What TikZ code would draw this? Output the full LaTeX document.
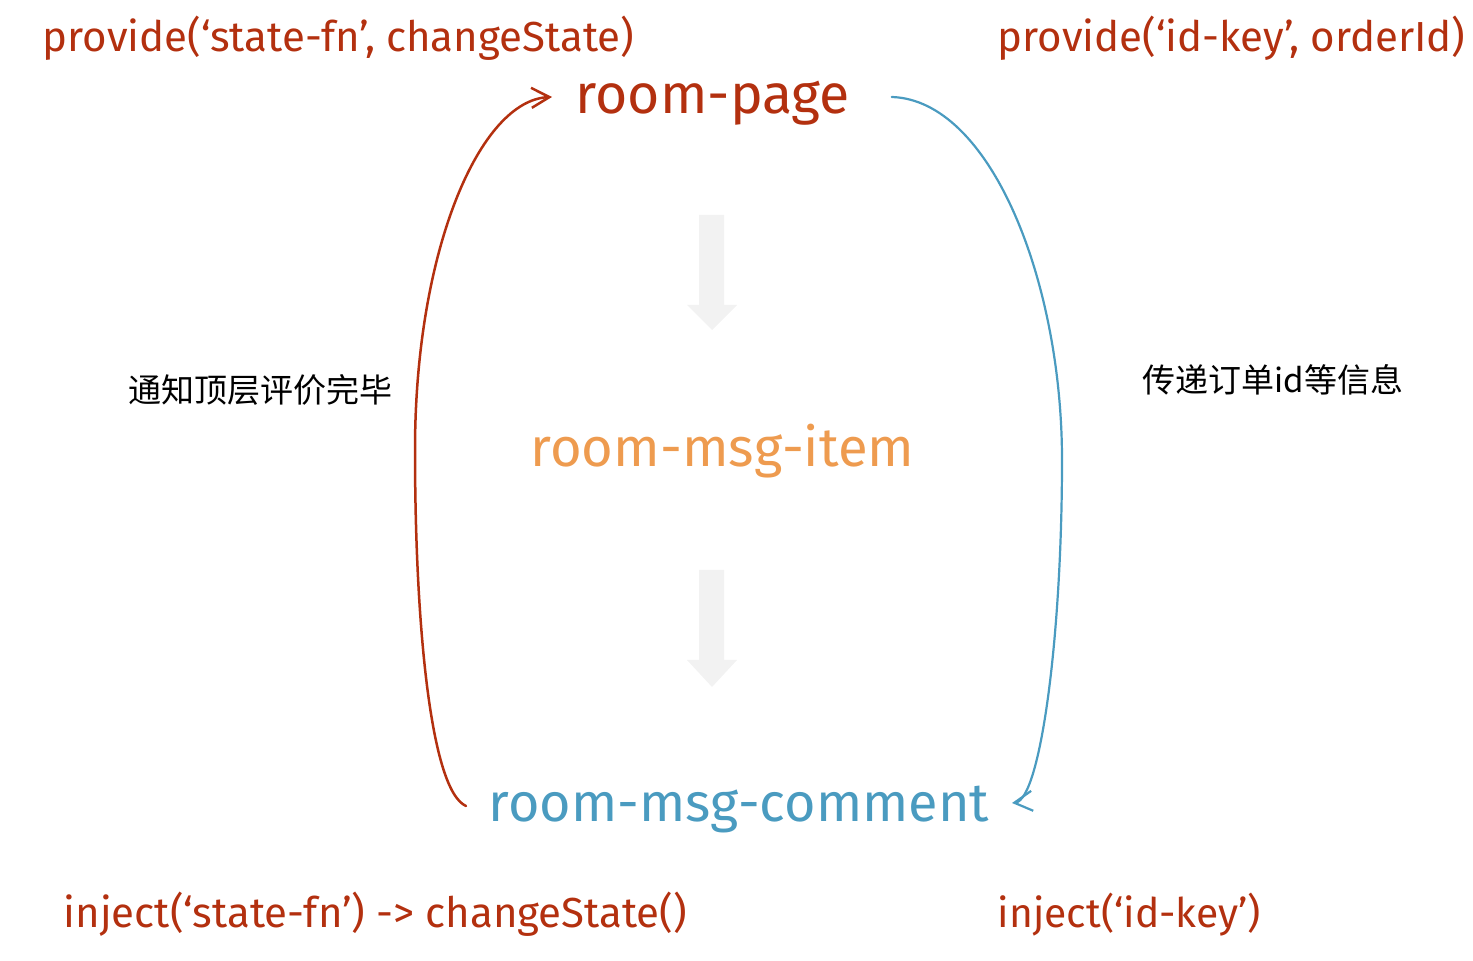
\documentclass[tikz,border=0pt]{standalone}
\usepackage{fontspec}
\setmainfont{Fira Sans}
\newfontfamily\cjk{Noto Sans CJK SC}
\usetikzlibrary{arrows.meta}
\definecolor{provred}{HTML}{B3300F}
\definecolor{itemorange}{HTML}{EE9B4F}
\definecolor{cmtblue}{HTML}{4A9BC0}
\definecolor{flowgray}{HTML}{F2F2F2}
\tikzset{every picture/.style={line width=0.75pt}}
\tikzset{
codetext/.style={anchor=base west, inner sep=0pt, text=provred, font=\fontsize{21}{26}\selectfont},
compname/.style={anchor=base west, inner sep=0pt, font=\fontsize{27.2}{32}\selectfont},
notetext/.style={anchor=west, inner sep=0pt, font=\cjk\fontsize{16.5}{20}\selectfont},
barb/.style={-{Straight Barb[length=9pt,width=10pt]}, line cap=round}}

\begin{document}
\begin{tikzpicture}[x=0.5pt,y=-0.5pt]
\useasboundingbox (0,0) rectangle (1473,961);

%Gray flow arrows
\fill [flowgray] (699,215) -- (724,215) -- (724,305) -- (737,305) -- (712,330) -- (687,305) -- (699,305) -- cycle ;
\fill [flowgray] (699,570) -- (724,570) -- (724,660) -- (737,660) -- (712,687) -- (687,660) -- (699,660) -- cycle ;

% Text Node
\draw (575,114) node (page) [compname, text=provred, font=\fontsize{27.7}{32}\selectfont] {room-page};
% Text Node
\draw (530,467) node (item) [compname, text=itemorange] {room-msg-item};
% Text Node
\draw (488,822) node (cmt) [compname, text=cmtblue, font=\fontsize{27}{32}\selectfont] {room-msg-comment};
% Text Node
\draw (42,52) node (provleft) [codetext] {provide(‘state-fn’, changeState)};
% Text Node
\draw (997,52) node (provright) [codetext] {provide(‘id-key’, orderId)};
% Text Node
\draw (63,928) node (injleft) [codetext] {inject(‘state-fn’) -> changeState()};
% Text Node
\draw (997,928) node (injright) [codetext, font=\fontsize{20.4}{26}\selectfont] {inject(‘id-key’)};
% Text Node
\draw (128,390) node (noteleft) [notetext] {通知顶层评价完毕};
% Text Node
\draw (1142,380) node (noteright) [notetext] {传递订单id等信息};

%Curve comment -> page
\draw [provred, line width=1.25pt, barb] ([shift={(-22,-16)}]cmt.base west) .. controls (430,790) and (415,620) .. (415,450) .. controls (415,250) and (480,100) .. ([shift={(-23,-17)}]page.base west) ;
%Curve page -> comment
\draw [cmtblue, line width=1.1pt, barb] ([shift={(41,-17)}]page.base east) .. controls (990,100) and (1062,280) .. (1062,460) .. controls (1062,640) and (1040,800) .. ([shift={(22,-19)}]cmt.base east) ;
\end{tikzpicture}
\end{document}
